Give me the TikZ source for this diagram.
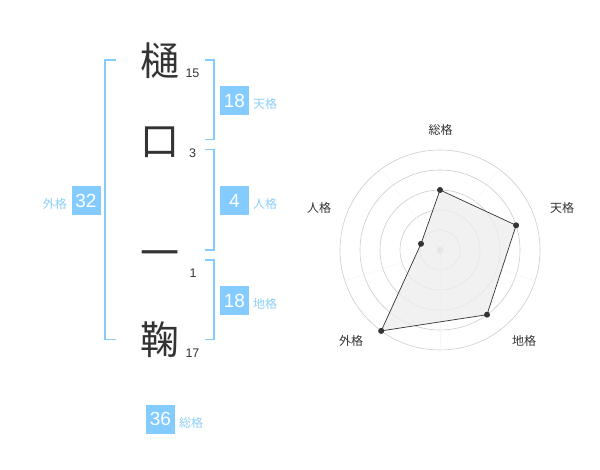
\documentclass[tikz,border=0pt]{standalone}
\usepackage{fontspec}
\usetikzlibrary{calc}
\setmainfont{Liberation Sans}
\newfontfamily\cjk{Noto Sans CJK JP}
\definecolor{kblue}{HTML}{84CCFF}
\definecolor{klab}{HTML}{8CCFF8}
\definecolor{kdark}{HTML}{333333}
\definecolor{kgrid}{HTML}{CCCCCC}
\begin{document}
\begin{tikzpicture}[x=1pt,y=-1pt,
  bigch/.style={text=kdark,font=\cjk\fontsize{39}{39}\selectfont,inner sep=0pt},
  strk/.style={text=kdark,font=\fontsize{12.5}{12.5}\selectfont,inner sep=0pt},
  numbox/.style={fill=kblue,text=white,minimum width=29pt,minimum height=29pt,inner sep=0pt,font=\fontsize{19}{19}\selectfont},
  kaku/.style={text=klab,font=\cjk\fontsize{12}{12}\selectfont,inner sep=0pt},
  brk/.style={draw=kblue,line width=1.5pt},
  rlab/.style={text=kdark,font=\cjk\fontsize{12}{12}\selectfont,inner sep=0pt},
  dot/.style={circle,fill=kdark,inner sep=0pt,minimum size=6pt}]
\useasboundingbox (0,0) rectangle (600,470);
% characters
\node[bigch] (c1) at (160,60.5) {樋};
\node[bigch] (c2) at (160,142) {口};
\node[bigch] (c3) at (160,259) {一};
\node[bigch] (c4) at (160,340) {鞠};
\node[strk] (n1) at (192.5,73) {15};
\node[strk] (n2) at (192.5,153) {3};
\node[strk] (n3) at (193,273) {1};
\node[strk] (n4) at (192.5,353) {17};
% brackets
\draw[brk] (116,60) -- (105,60) -- (105,339.5) -- (116,339.5);
\draw[brk] (205,60) -- (214,60) -- (214,139.5) -- (205,139.5);
\draw[brk] (205,149.5) -- (214,149.5) -- (214,250) -- (205,250);
\draw[brk] (205,260) -- (214,260) -- (214,339.5) -- (205,339.5);
% boxes
\node[numbox] (b1) at (234.5,100.5) {18};
\node[kaku,anchor=west] (k1) at (253,104) {天格};
\node[numbox] (b2) at (234.5,200.5) {4};
\node[kaku,anchor=west] (k2) at (253,204) {人格};
\node[numbox] (b3) at (234.5,300.5) {18};
\node[kaku,anchor=west] (k3) at (253,304) {地格};
\node[numbox] (b4) at (86,200.5) {32};
\node[kaku,anchor=east] (k4) at (67,204) {外格};
\node[numbox] (b5) at (160.5,419) {36};
\node[kaku,anchor=west] (k5) at (179,423) {総格};
% radar
\coordinate (o) at (440,250);
\foreach \r in {20,40,60,80,100} \draw[kgrid,line width=0.6pt] (o) circle[radius=\r];
\foreach \a in {90,18,-54,-126,162} \draw[black!4,line width=0.5pt] (o) -- ++(\a:100);
\fill[kgrid] (o) circle[radius=3.5];
\coordinate (p1) at ($(o)+(0,-60)$);
\coordinate (p2) at ($(o)+(76.1,-24.7)$);
\coordinate (p3) at ($(o)+(47.0,64.7)$);
\coordinate (p4) at ($(o)+(-58.8,80.9)$);
\coordinate (p5) at ($(o)+(-19.0,-6.2)$);
\filldraw[fill=black!7,fill opacity=0.8,draw=kdark,line width=0.7pt] (p1) -- (p2) -- (p3) -- (p4) -- (p5) -- cycle;
\foreach \p in {p1,p2,p3,p4,p5} \node[dot] at (\p) {};
\node[rlab] (r1) at (440.5,130) {総格};
\node[rlab] (r2) at (562,208) {天格};
\node[rlab] (r3) at (524,341) {地格};
\node[rlab] (r4) at (351,341) {外格};
\node[rlab] (r5) at (319,208) {人格};
\end{tikzpicture}
\end{document}
